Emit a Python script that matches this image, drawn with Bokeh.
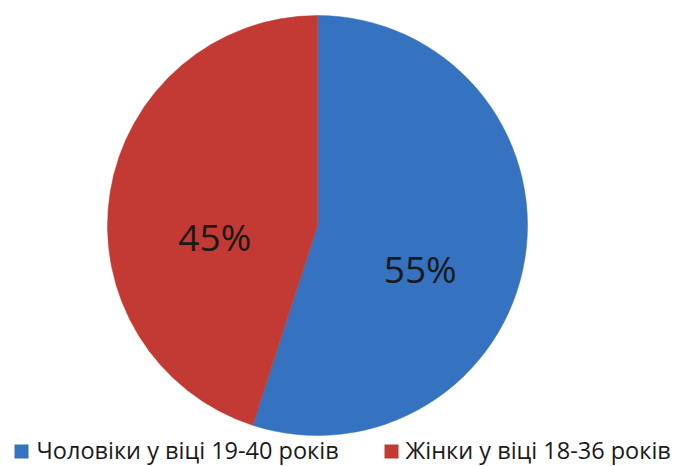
import numpy as np
from bokeh.plotting import figure
from bokeh.models import Range1d, ColumnDataSource
from bokeh.core.properties import value
from bokeh.embed import file_html
from bokeh.resources import INLINE

labels = ["Чоловіки у віці 19-40 років", "Жінки у віці 18-36 років"]
values = [55, 45]
colors = ["#3572C0", "#C23A33"]

W, H = 693, 466
cx, cy, R = 317, H - 225, 210

frac = np.array(values) / sum(values)
ends = np.pi / 2 - 2 * np.pi * np.cumsum(frac)
starts = np.concatenate([[np.pi / 2], ends[:-1]])
mids = (starts + ends) / 2

src = ColumnDataSource(dict(start=starts, end=ends, color=colors, label=labels))

p = figure(width=W, height=H, x_range=Range1d(0, W), y_range=Range1d(0, H),
           output_backend="svg", toolbar_location=None, min_border=0)
p.axis.visible = False
p.grid.visible = False
p.outline_line_color = None
p.background_fill_color = "white"

p.wedge(x=cx, y=cy, radius=R, start_angle="start", end_angle="end",
        direction="clock", fill_color="color", line_color="color", line_width=0.5,
        source=src)

# percentage labels
lr = 104
lx = cx + lr * np.cos(mids)
ly = cy + lr * np.sin(mids) - 27
p.text(x=lx, y=ly, text=[f"{v}%" for v in values], text_align="center",
       text_baseline="middle", text_font=value("Open Sans"),
       text_font_size="37px", text_color="#1a1a1a")

# legend
leg_y = H - 451
sq_x = [21, 391]
txt_x = [36, 405]
p.rect(x=sq_x, y=[leg_y, leg_y], width=14, height=14, fill_color=colors, line_color=None)
p.text(x=txt_x, y=[H - 449, H - 449], text=labels, text_align="left",
       text_baseline="middle", text_font=value("Open Sans"),
       text_font_size="23.5px", text_color="#1a1a1a")

open("out.html", "w").write(file_html(p, INLINE))
